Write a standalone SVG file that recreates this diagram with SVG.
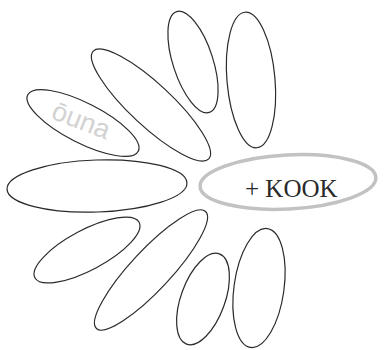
<svg xmlns="http://www.w3.org/2000/svg" width="386" height="350" viewBox="0 0 386 350">
<style>
.p{fill:none;stroke:#2a2a2a;stroke-width:1.2}
.k{fill:none;stroke:#c2c2c2;stroke-width:3.5}
.t{font-family:"Liberation Serif",serif;font-size:25px;fill:#2a2a2a}
.g{font-family:"Liberation Sans",sans-serif;font-size:27px;fill:#d2d2d2}
</style>
<rect width="386" height="350" fill="#ffffff"/>
<g id="petal1"><ellipse class="p" cx="251" cy="80" rx="24" ry="68" transform="rotate(-5 251 80)"/></g>
<g id="petal2"><ellipse class="p" cx="193" cy="62" rx="20" ry="53" transform="rotate(-18 193 62)"/></g>
<g id="petal3"><ellipse class="p" cx="151" cy="105" rx="79" ry="21" transform="rotate(43 151 105)"/></g>
<g id="petal4"><ellipse class="p" cx="83" cy="123" rx="62" ry="20" transform="rotate(27 83 123)"/>
<text class="g" x="50" y="118" transform="rotate(21 50 118)">ōuna</text></g>
<g id="petal5"><ellipse class="p" cx="97" cy="186" rx="90" ry="26" transform="rotate(-2 97 186)"/></g>
<g id="kook"><ellipse class="k" cx="288" cy="182" rx="88" ry="27" transform="rotate(-3 288 182)"/>
<text class="t" x="245" y="197">+ KOOK</text></g>
<g id="petal6"><ellipse class="p" cx="87" cy="250" rx="59" ry="20" transform="rotate(-28 87 250)"/></g>
<g id="petal7"><ellipse class="p" cx="151" cy="270" rx="80" ry="20" transform="rotate(-47 151 270)"/></g>
<g id="petal8"><ellipse class="p" cx="203" cy="299" rx="22" ry="48" transform="rotate(20 203 299)"/></g>
<g id="petal9"><ellipse class="p" cx="259" cy="288" rx="25" ry="60" transform="rotate(8 259 288)"/></g>
<g id="connectors"></g>
</svg>
